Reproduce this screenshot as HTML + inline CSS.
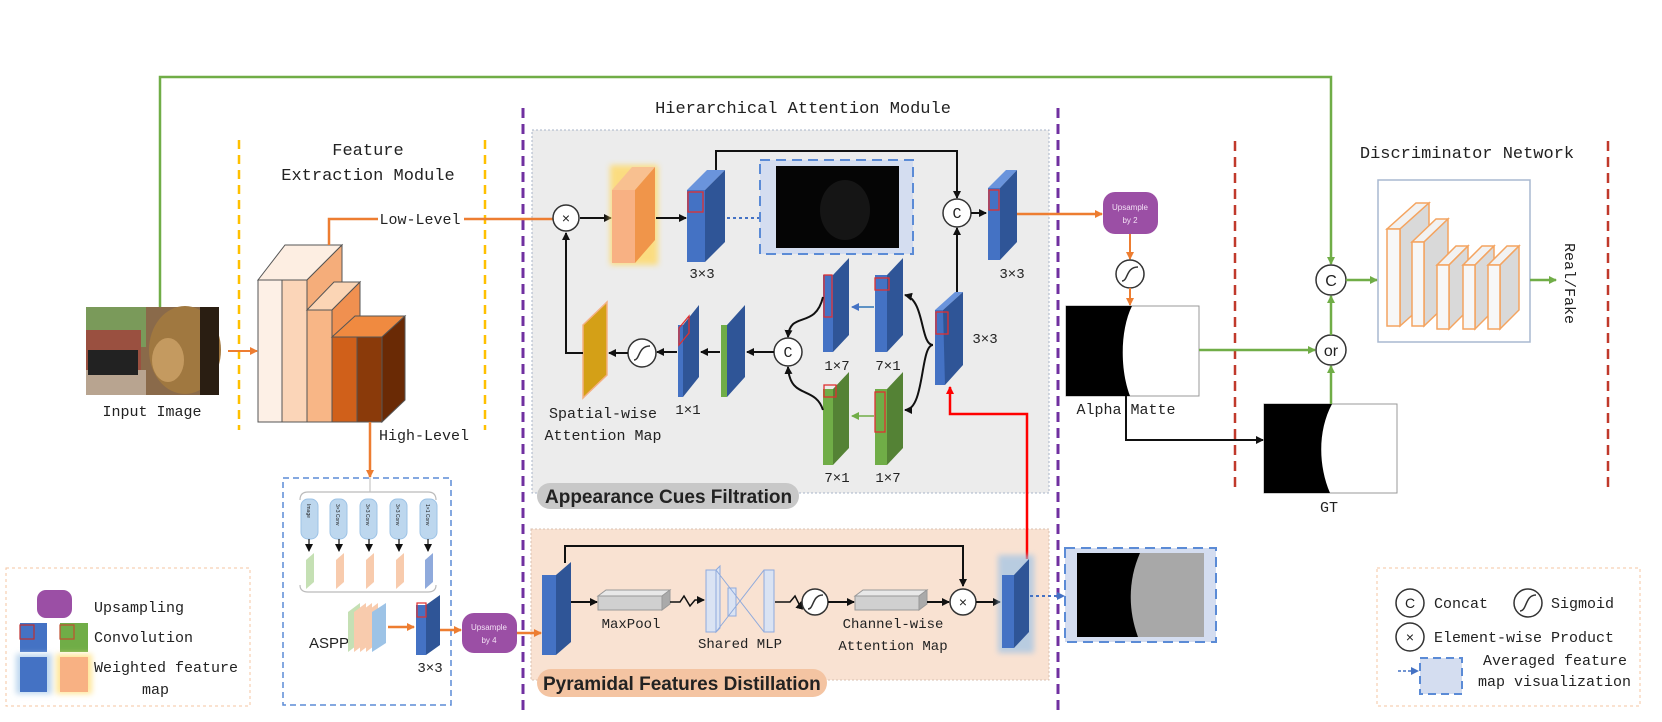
<!DOCTYPE html>
<html><head><meta charset="utf-8"><style>
html,body{margin:0;padding:0;background:#fff;}
svg{display:block;}
text{font-family:"Liberation Mono","DejaVu Sans Mono",monospace;fill:#222;}
.s{font-family:"Liberation Sans",sans-serif;}
</style></head><body>
<svg width="1662" height="722" viewBox="0 0 1662 722" xmlns="http://www.w3.org/2000/svg">
<defs>
<marker id="ab" markerWidth="8" markerHeight="8" refX="7" refY="4" orient="auto" markerUnits="userSpaceOnUse"><path d="M0,0 L8,4 L0,8 z" fill="#111"/></marker>
<marker id="ao" markerWidth="8" markerHeight="8" refX="7" refY="4" orient="auto" markerUnits="userSpaceOnUse"><path d="M0,0 L8,4 L0,8 z" fill="#ed7d31"/></marker>
<marker id="ag" markerWidth="8" markerHeight="8" refX="7" refY="4" orient="auto" markerUnits="userSpaceOnUse"><path d="M0,0 L8,4 L0,8 z" fill="#70ad47"/></marker>
<marker id="ar" markerWidth="8" markerHeight="8" refX="7" refY="4" orient="auto" markerUnits="userSpaceOnUse"><path d="M0,0 L8,4 L0,8 z" fill="#f00"/></marker>
<marker id="abl" markerWidth="8" markerHeight="8" refX="7" refY="4" orient="auto" markerUnits="userSpaceOnUse"><path d="M0,0 L8,4 L0,8 z" fill="#4472c4"/></marker>
<filter id="glowY" x="-50%" y="-50%" width="200%" height="200%"><feGaussianBlur stdDeviation="3"/></filter>
</defs>

<!-- region boxes -->
<rect x="532" y="130" width="517" height="363" fill="#ececec" stroke="#a9b4c8" stroke-dasharray="2,2"/>
<rect x="531" y="529" width="518" height="151" fill="#f9e2d2" stroke="#d9c0b0" stroke-dasharray="2,2"/>
<rect x="537" y="483" width="262" height="26" rx="13" fill="#c8c8c8"/>
<text x="545" y="503" class="s" font-size="19" font-weight="bold" fill="#111">Appearance Cues Filtration</text>
<rect x="537" y="669" width="290" height="28" rx="14" fill="#f4c4a2"/>
<text x="543" y="690" class="s" font-size="19" font-weight="bold" fill="#111">Pyramidal Features Distillation</text>

<!-- dashed separators -->
<line x1="239" y1="140" x2="239" y2="430" stroke="#ffc000" stroke-width="2.5" stroke-dasharray="9,6"/>
<line x1="485" y1="140" x2="485" y2="430" stroke="#ffc000" stroke-width="2.5" stroke-dasharray="9,6"/>
<line x1="523" y1="108" x2="523" y2="715" stroke="#7030a0" stroke-width="3" stroke-dasharray="10,6"/>
<line x1="1058" y1="108" x2="1058" y2="715" stroke="#7030a0" stroke-width="3" stroke-dasharray="10,6"/>
<line x1="1235" y1="141" x2="1235" y2="490" stroke="#c0392b" stroke-width="2.5" stroke-dasharray="10,6"/>
<line x1="1608" y1="141" x2="1608" y2="490" stroke="#c0392b" stroke-width="2.5" stroke-dasharray="10,6"/>

<!-- titles -->
<text x="368" y="155" font-size="17" text-anchor="middle">Feature</text>
<text x="368" y="180" font-size="17" text-anchor="middle">Extraction Module</text>
<text x="803" y="113" font-size="17" text-anchor="middle">Hierarchical Attention Module</text>
<text x="1467" y="158" font-size="17" text-anchor="middle">Discriminator Network</text>

<!-- green top line -->
<polyline points="160,307 160,77 1331,77 1331,264" fill="none" stroke="#70ad47" stroke-width="2.5" marker-end="url(#ag)"/>

<!-- input image -->
<rect x="86" y="307" width="133" height="88" fill="#8a6a4a"/>
<rect x="86" y="307" width="60" height="40" fill="#7a9a5a"/>
<rect x="86" y="330" width="55" height="40" fill="#9a5040"/>
<rect x="86" y="370" width="60" height="25" fill="#b8a490"/>
<rect x="88" y="350" width="50" height="25" fill="#222"/>
<ellipse cx="185" cy="350" rx="36" ry="44" fill="#a07840"/>
<ellipse cx="168" cy="360" rx="16" ry="22" fill="#c49a60"/>
<rect x="200" y="307" width="19" height="88" fill="#2a1e12"/>
<text x="152" y="416" font-size="15" text-anchor="middle">Input Image</text>
<line x1="228" y1="351" x2="257" y2="351" stroke="#ed7d31" stroke-width="2" marker-end="url(#ao)"/>

<!-- feature extractor blocks -->
<g stroke="#555" stroke-width="1">
<polygon points="258,280 285,245 342,245 307,280" fill="#fdeee2"/>
<rect x="258" y="280" width="24" height="142" fill="#fdf0e6"/>
<rect x="282" y="280" width="25" height="142" fill="#fbd5b8"/>
<polygon points="307,280 342,245 342,282 307,310" fill="#f5ad7a"/>
<polygon points="307,310 334,282 360,282 332,310" fill="#fbd5b5"/>
<rect x="307" y="310" width="25" height="112" fill="#f8b686"/>
<polygon points="332,310 360,282 360,316 332,337" fill="#f09050"/>
<polygon points="332,337 355,316 405,316 382,337" fill="#f08a40"/>
<rect x="332" y="337" width="25" height="85" fill="#d0601a"/>
<rect x="357" y="337" width="25" height="85" fill="#8a3a0a"/>
<polygon points="382,337 405,316 405,400 382,422" fill="#6a2a05"/>
</g>
<polyline points="329,245 329,219 565,219" fill="none" stroke="#ed7d31" stroke-width="2.5" marker-end="url(#ao)"/>
<rect x="378" y="209" width="86" height="18" fill="#fff"/>
<text x="420" y="224" font-size="15" text-anchor="middle">Low-Level</text>
<line x1="370" y1="422" x2="370" y2="477" stroke="#ed7d31" stroke-width="2.5" marker-end="url(#ao)"/>
<text x="424" y="440" font-size="15" text-anchor="middle">High-Level</text>

<!-- ACF row 1 -->
<circle cx="566" cy="218" r="13" fill="#fff" stroke="#333" stroke-width="1.5"/>
<text x="566" y="223" font-size="14" text-anchor="middle">×</text>
<line x1="580" y1="218" x2="611" y2="218" stroke="#111" stroke-width="2" marker-end="url(#ab)"/>
<!-- weighted orange -->
<g>
<rect x="610" y="165" width="48" height="100" fill="#ffd966" filter="url(#glowY)" opacity="0.8"/>
<polygon points="612,190 632,167 655,167 635,190" fill="#f8c090"/>
<rect x="612" y="190" width="23" height="73" fill="#f8b183"/>
<polygon points="635,190 655,167 655,240 635,263" fill="#f0954a"/>
</g>
<line x1="656" y1="218" x2="686" y2="218" stroke="#111" stroke-width="2" marker-end="url(#ab)"/>
<!-- blue 3x3 -->
<polygon points="687,190 707,170 725,170 705,190" fill="#6a94dc"/>
<rect x="687" y="190" width="18" height="72" fill="#4472c4"/>
<polygon points="705,190 725,170 725,242 705,262" fill="#2f5597"/>
<rect x="688" y="192" width="15" height="20" fill="none" stroke="#e03030" stroke-width="1.3"/>
<text x="702" y="278" font-size="14" text-anchor="middle">3×3</text>
<line x1="727" y1="218" x2="774" y2="218" stroke="#4472c4" stroke-width="2" stroke-dasharray="3,3" marker-end="url(#abl)"/>
<rect x="760" y="160" width="153" height="94" fill="#d4ddf0" stroke="#5b8bd6" stroke-width="2" stroke-dasharray="10,6"/>
<rect x="776" y="166" width="123" height="82" fill="#050505"/>
<ellipse cx="845" cy="210" rx="25" ry="30" fill="#151515"/>
<polyline points="716,170 716,151 957,151 957,198" fill="none" stroke="#111" stroke-width="2" marker-end="url(#ab)"/>
<circle cx="957" cy="213" r="14" fill="#fff" stroke="#333" stroke-width="1.5"/>
<text x="957" y="218" font-size="15" text-anchor="middle">C</text>
<line x1="971" y1="213" x2="986" y2="213" stroke="#111" stroke-width="2" marker-end="url(#ab)"/>
<!-- right 3x3 -->
<polygon points="988,188 1006,170 1017,170 1000,188" fill="#6a94dc"/>
<rect x="988" y="188" width="12" height="72" fill="#4472c4"/>
<polygon points="1000,188 1017,170 1017,242 1000,260" fill="#2f5597"/>
<rect x="989" y="190" width="10" height="20" fill="none" stroke="#e03030" stroke-width="1.3"/>
<text x="1012" y="278" font-size="14" text-anchor="middle">3×3</text>
<line x1="1017" y1="214" x2="1102" y2="214" stroke="#ed7d31" stroke-width="2.5" marker-end="url(#ao)"/>

<!-- ACF lower -->
<!-- mid 3x3 -->
<polygon points="935,310 955,292 963,292 943,310" fill="#6a94dc"/>
<rect x="935" y="310" width="10" height="75" fill="#4472c4"/>
<polygon points="943,310 963,292 963,365 945,385" fill="#2f5597"/>
<rect x="936" y="312" width="12" height="22" fill="none" stroke="#e03030" stroke-width="1.3"/>
<text x="985" y="343" font-size="14" text-anchor="middle">3×3</text>
<line x1="957" y1="292" x2="957" y2="228" stroke="#111" stroke-width="2" marker-end="url(#ab)"/>
<!-- 1x7 blue / 7x1 blue -->
<rect x="823" y="275" width="10" height="77" fill="#4472c4"/>
<polygon points="833,275 849,258 849,335 833,352" fill="#2f5597"/>
<rect x="824" y="275" width="8" height="42" fill="none" stroke="#e03030" stroke-width="1.3"/>
<rect x="875" y="275" width="12" height="77" fill="#4472c4"/>
<polygon points="887,275 903,258 903,335 887,352" fill="#2f5597"/>
<rect x="875" y="278" width="14" height="12" fill="none" stroke="#e03030" stroke-width="1.3"/>
<line x1="874" y1="307" x2="852" y2="307" stroke="#2e75b6" stroke-width="1.5" marker-end="url(#abl)"/>
<text x="837" y="370" font-size="14" text-anchor="middle">1×7</text>
<text x="888" y="370" font-size="14" text-anchor="middle">7×1</text>
<!-- green -->
<rect x="823" y="389" width="10" height="76" fill="#70ad47"/>
<polygon points="833,389 849,372 849,448 833,465" fill="#548235"/>
<rect x="824" y="385" width="12" height="12" fill="none" stroke="#e03030" stroke-width="1.3"/>
<rect x="875" y="389" width="12" height="76" fill="#70ad47"/>
<polygon points="887,389 903,372 903,448 887,465" fill="#548235"/>
<rect x="875" y="392" width="10" height="40" fill="none" stroke="#e03030" stroke-width="1.3"/>
<line x1="874" y1="416" x2="852" y2="416" stroke="#70ad47" stroke-width="1.5" marker-end="url(#ag)"/>
<text x="837" y="482" font-size="14" text-anchor="middle">7×1</text>
<text x="888" y="482" font-size="14" text-anchor="middle">1×7</text>
<!-- braces -->
<path d="M933,345 C920,345 925,300 905,295" fill="none" stroke="#111" stroke-width="2" marker-end="url(#ab)"/>
<path d="M933,345 C920,345 925,410 905,410" fill="none" stroke="#111" stroke-width="2" marker-end="url(#ab)"/>
<path d="M823,297 C815,330 790,310 788,337" fill="none" stroke="#111" stroke-width="2" marker-end="url(#ab)"/>
<path d="M823,410 C815,385 790,400 788,367" fill="none" stroke="#111" stroke-width="2" marker-end="url(#ab)"/>
<circle cx="788" cy="352" r="14" fill="#fff" stroke="#333" stroke-width="1.5"/>
<text x="788" y="357" font-size="15" text-anchor="middle">C</text>
<line x1="774" y1="352" x2="747" y2="352" stroke="#111" stroke-width="2" marker-end="url(#ab)"/>
<!-- blue w green edge -->
<rect x="721" y="325" width="6" height="72" fill="#70ad47"/>
<polygon points="727,325 745,305 745,377 727,397" fill="#2f5597"/>
<line x1="720" y1="352" x2="701" y2="352" stroke="#111" stroke-width="2" marker-end="url(#ab)"/>
<!-- 1x1 -->
<rect x="678" y="325" width="5" height="72" fill="#4472c4"/>
<polygon points="683,325 699,305 699,377 683,397" fill="#2f5597"/>
<polygon points="679,328 689,316 689,333 679,345" fill="none" stroke="#e03030" stroke-width="1.3"/>
<text x="688" y="414" font-size="14" text-anchor="middle">1×1</text>
<line x1="677" y1="352" x2="657" y2="352" stroke="#111" stroke-width="2" marker-end="url(#ab)"/>
<circle cx="642" cy="353" r="14" fill="#fff" stroke="#333" stroke-width="1.5"/>
<path d="M634,360 C640,360 638,346 650,346" fill="none" stroke="#333" stroke-width="1.5"/>
<line x1="628" y1="353" x2="609" y2="353" stroke="#111" stroke-width="2" marker-end="url(#ab)"/>
<!-- spatial map -->
<polygon points="583,325 607,302 607,375 583,398" fill="#d4a017" stroke="#f4b183" stroke-width="1.5"/>
<polyline points="583,353 566,353 566,233" fill="none" stroke="#111" stroke-width="2" marker-end="url(#ab)"/>
<text x="603" y="418" font-size="15" text-anchor="middle">Spatial-wise</text>
<text x="603" y="440" font-size="15" text-anchor="middle">Attention Map</text>

<!-- red line -->
<polyline points="1027,559 1027,414 950,414 950,387" fill="none" stroke="#f00" stroke-width="2.5" marker-end="url(#ar)"/>

<!-- upsample by 2 / sigmoid / alpha -->
<rect x="1103" y="192" width="55" height="42" rx="12" fill="#9b4fa5"/>
<text x="1130" y="210" class="s" font-size="8" fill="#f3e0f5" text-anchor="middle" style="fill:#f3e0f5">Upsample</text>
<text x="1130" y="223" class="s" font-size="8" text-anchor="middle" style="fill:#f3e0f5">by 2</text>
<line x1="1130" y1="234" x2="1130" y2="259" stroke="#ed7d31" stroke-width="2" marker-end="url(#ao)"/>
<circle cx="1130" cy="274" r="14" fill="#fff" stroke="#333" stroke-width="1.5"/>
<path d="M1122,281 C1128,281 1126,267 1138,267" fill="none" stroke="#333" stroke-width="1.5"/>
<line x1="1130" y1="288" x2="1130" y2="305" stroke="#ed7d31" stroke-width="2" marker-end="url(#ao)"/>
<rect x="1066" y="306" width="133" height="90" fill="#fff" stroke="#999"/>
<path d="M1066,306 L1132,306 C1120,330 1120,370 1130,396 L1066,396 Z" fill="#000"/>
<text x="1126" y="414" font-size="15" text-anchor="middle">Alpha Matte</text>
<polyline points="1126,396 1126,440 1263,440" fill="none" stroke="#111" stroke-width="2" marker-end="url(#ab)"/>
<line x1="1199" y1="350" x2="1315" y2="350" stroke="#70ad47" stroke-width="2.5" marker-end="url(#ag)"/>
<rect x="1264" y="404" width="133" height="89" fill="#fff" stroke="#999"/>
<path d="M1264,404 L1332,404 C1318,430 1318,465 1330,493 L1264,493 Z" fill="#000"/>
<text x="1329" y="512" font-size="15" text-anchor="middle">GT</text>
<line x1="1331" y1="404" x2="1331" y2="366" stroke="#70ad47" stroke-width="2.5" marker-end="url(#ag)"/>
<circle cx="1331" cy="350" r="15" fill="#fff" stroke="#333" stroke-width="1.5"/>
<text x="1331" y="356" class="s" font-size="16" text-anchor="middle">or</text>
<line x1="1331" y1="335" x2="1331" y2="296" stroke="#70ad47" stroke-width="2.5" marker-end="url(#ag)"/>
<circle cx="1331" cy="280" r="15" fill="#fff" stroke="#333" stroke-width="1.5"/>
<text x="1331" y="286" class="s" font-size="16" text-anchor="middle">C</text>
<line x1="1346" y1="280" x2="1377" y2="280" stroke="#70ad47" stroke-width="2.5" marker-end="url(#ag)"/>

<!-- discriminator -->
<rect x="1378" y="180" width="152" height="162" fill="#fff" stroke="#a9b8d0" stroke-width="1.5"/>
<g stroke="#f4a460" stroke-width="1.5">
<polygon points="1387,229 1400,229 1429,203 1416,203" fill="#f2f2f2"/>
<polygon points="1400,229 1429,203 1429,300 1400,326" fill="#d9d9d9"/>
<rect x="1387" y="229" width="13" height="97" fill="#f7f7f7"/>
<polygon points="1412,242 1424,242 1448,219 1436,219" fill="#f2f2f2"/>
<polygon points="1424,242 1448,219 1448,303 1424,326" fill="#d9d9d9"/>
<rect x="1412" y="242" width="12" height="84" fill="#f7f7f7"/>
<polygon points="1437,265 1449,265 1468,246 1456,246" fill="#f2f2f2"/>
<polygon points="1449,265 1468,246 1468,310 1449,329" fill="#d9d9d9"/>
<rect x="1437" y="265" width="12" height="64" fill="#f7f7f7"/>
<polygon points="1463,265 1475,265 1494,246 1482,246" fill="#f2f2f2"/>
<polygon points="1475,265 1494,246 1494,310 1475,329" fill="#d9d9d9"/>
<rect x="1463" y="265" width="12" height="64" fill="#f7f7f7"/>
<polygon points="1488,265 1500,265 1519,246 1507,246" fill="#f2f2f2"/>
<polygon points="1500,265 1519,246 1519,310 1500,329" fill="#d9d9d9"/>
<rect x="1488" y="265" width="12" height="64" fill="#f7f7f7"/>
</g>
<line x1="1530" y1="280" x2="1556" y2="280" stroke="#70ad47" stroke-width="2.5" marker-end="url(#ag)"/>
<text x="0" y="0" font-size="15" transform="translate(1565,243) rotate(90)">Real/Fake</text>

<!-- ASPP -->
<rect x="283" y="478" width="168" height="227" fill="none" stroke="#5b8bd6" stroke-width="1.5" stroke-dasharray="6,4"/>
<path d="M300,500 Q300,492 308,492 L428,492 Q436,492 436,500 M300,585 Q300,592 308,592 L428,592 Q436,592 436,585" fill="none" stroke="#bbb" stroke-width="1.2"/>
<line x1="370" y1="478" x2="370" y2="492" stroke="#bbb"/>
<g fill="#bdd7ee" stroke="#9dc3e6">
<rect x="301" y="499" width="17" height="40" rx="7"/>
<rect x="330" y="499" width="17" height="40" rx="7"/>
<rect x="360" y="499" width="17" height="40" rx="7"/>
<rect x="390" y="499" width="17" height="40" rx="7"/>
<rect x="420" y="499" width="17" height="40" rx="7"/>
</g>
<g font-size="5" class="s">
<text transform="translate(307,504) rotate(90)" class="s">Image</text>
<text transform="translate(336,504) rotate(90)" class="s">3×3 Conv</text>
<text transform="translate(366,504) rotate(90)" class="s">3×3 Conv</text>
<text transform="translate(396,504) rotate(90)" class="s">3×3 Conv</text>
<text transform="translate(426,504) rotate(90)" class="s">1×1 Conv</text>
</g>
<g stroke="#111" stroke-width="1.2">
<line x1="309" y1="539" x2="309" y2="551" marker-end="url(#ab)"/>
<line x1="339" y1="539" x2="339" y2="551" marker-end="url(#ab)"/>
<line x1="369" y1="539" x2="369" y2="551" marker-end="url(#ab)"/>
<line x1="399" y1="539" x2="399" y2="551" marker-end="url(#ab)"/>
<line x1="428" y1="539" x2="428" y2="551" marker-end="url(#ab)"/>
</g>
<polygon points="306,560 314,553 314,582 306,589" fill="#c5e0b4"/>
<polygon points="336,560 344,553 344,582 336,589" fill="#f8cbad"/>
<polygon points="366,560 374,553 374,582 366,589" fill="#f8cbad"/>
<polygon points="396,560 404,553 404,582 396,589" fill="#f8cbad"/>
<polygon points="425,560 433,553 433,582 425,589" fill="#8faadc"/>
<text x="309" y="648" class="s" font-size="15">ASPP</text>
<g>
<polygon points="348,612 360,603 360,643 348,652" fill="#c5e0b4"/>
<polygon points="354,612 366,603 366,643 354,652" fill="#f8cbad"/>
<polygon points="360,612 372,603 372,643 360,652" fill="#f8cbad"/>
<polygon points="366,612 378,603 378,643 366,652" fill="#f8cbad"/>
<polygon points="372,612 386,603 386,643 372,652" fill="#9dc3e6"/>
</g>
<line x1="388" y1="627" x2="414" y2="627" stroke="#ed7d31" stroke-width="2.5" marker-end="url(#ao)"/>
<rect x="416" y="605" width="10" height="50" fill="#4472c4"/>
<polygon points="426,605 440,595 440,645 426,655" fill="#2f5597"/>
<rect x="417" y="603" width="9" height="14" fill="none" stroke="#e03030" stroke-width="1.2"/>
<text x="430" y="672" font-size="14" text-anchor="middle">3×3</text>
<line x1="440" y1="630" x2="461" y2="630" stroke="#ed7d31" stroke-width="2.5" marker-end="url(#ao)"/>
<rect x="462" y="613" width="55" height="40" rx="12" fill="#9b4fa5"/>
<text x="489" y="630" class="s" font-size="8" text-anchor="middle" style="fill:#f3e0f5">Upsample</text>
<text x="489" y="643" class="s" font-size="8" text-anchor="middle" style="fill:#f3e0f5">by 4</text>
<line x1="517" y1="633" x2="541" y2="633" stroke="#ed7d31" stroke-width="2.5" marker-end="url(#ao)"/>

<!-- PFD -->
<rect x="542" y="575" width="14" height="80" fill="#4472c4"/>
<polygon points="556,575 571,562 571,642 556,655" fill="#2f5597"/>
<polyline points="565,563 565,546 963,546 963,586" fill="none" stroke="#111" stroke-width="2" marker-end="url(#ab)"/>
<line x1="571" y1="602" x2="597" y2="602" stroke="#111" stroke-width="2" marker-end="url(#ab)"/>
<polygon points="598,596 662,596 670,590 606,590" fill="#e8e8e8" stroke="#999"/>
<rect x="598" y="596" width="64" height="14" fill="#d0d0d0" stroke="#999"/>
<polygon points="662,596 670,590 670,604 662,610" fill="#aaa" stroke="#999"/>
<text x="631" y="628" font-size="14" text-anchor="middle">MaxPool</text>
<path d="M670,602 L680,602 L684,596 L690,606 L695,600 L704,600" fill="none" stroke="#111" stroke-width="1.5" marker-end="url(#ab)"/>
<g fill="#dae3f3" stroke="#8faadc">
<rect x="706" y="570" width="10" height="62"/>
<rect x="764" y="570" width="10" height="62"/>
<rect x="728" y="588" width="8" height="28"/>
<polygon points="716,570 720,566 720,628 716,632"/>
</g>
<path d="M716,570 L764,632 M716,632 L764,570" stroke="#8faadc" fill="none"/>
<text x="740" y="648" font-size="14" text-anchor="middle">Shared MLP</text>
<path d="M775,602 L790,602 L795,596 L800,606 L801,602" fill="none" stroke="#111" stroke-width="1.5" marker-end="url(#ab)"/>
<circle cx="815" cy="602" r="13" fill="#fff" stroke="#333" stroke-width="1.5"/>
<path d="M808,609 C814,609 812,595 823,595" fill="none" stroke="#333" stroke-width="1.5"/>
<line x1="828" y1="602" x2="854" y2="602" stroke="#111" stroke-width="2" marker-end="url(#ab)"/>
<polygon points="855,596 919,596 927,590 863,590" fill="#e8e8e8" stroke="#999"/>
<rect x="855" y="596" width="64" height="14" fill="#d0d0d0" stroke="#999"/>
<polygon points="919,596 927,590 927,604 919,610" fill="#aaa" stroke="#999"/>
<text x="893" y="628" font-size="14" text-anchor="middle">Channel-wise</text>
<text x="893" y="650" font-size="14" text-anchor="middle">Attention Map</text>
<line x1="927" y1="602" x2="949" y2="602" stroke="#111" stroke-width="2" marker-end="url(#ab)"/>
<circle cx="963" cy="602" r="13" fill="#fff" stroke="#333" stroke-width="1.5"/>
<text x="963" y="607" font-size="14" text-anchor="middle">×</text>
<line x1="976" y1="602" x2="1000" y2="602" stroke="#111" stroke-width="2" marker-end="url(#ab)"/>
<rect x="998" y="555" width="36" height="98" fill="#9dc3e6" filter="url(#glowY)" opacity="0.7"/>
<rect x="1002" y="575" width="12" height="73" fill="#4472c4"/>
<polygon points="1014,575 1029,559 1029,632 1014,648" fill="#2f5597"/>
<line x1="1030" y1="596" x2="1064" y2="596" stroke="#4472c4" stroke-width="2" stroke-dasharray="3,3" marker-end="url(#abl)"/>
<rect x="1065" y="548" width="151" height="94" fill="#d4ddf0" stroke="#5b8bd6" stroke-width="2" stroke-dasharray="10,6"/>
<rect x="1077" y="553" width="127" height="84" fill="#000"/>
<path d="M1140,553 L1204,553 L1204,637 L1138,637 C1128,610 1128,580 1140,553 Z" fill="#a8a8a8"/>

<!-- legends -->
<rect x="6" y="568" width="244" height="138" fill="none" stroke="#f4c4a2" stroke-dasharray="3,3"/>
<rect x="37" y="590" width="35" height="28" rx="9" fill="#9b4fa5"/>
<text x="94" y="612" font-size="15">Upsampling</text>
<rect x="20" y="623" width="27" height="29" fill="#4472c4"/>
<rect x="20" y="625" width="14" height="14" fill="none" stroke="#c03030" stroke-width="1.2"/>
<rect x="60" y="623" width="28" height="29" fill="#70ad47"/>
<rect x="60" y="625" width="14" height="14" fill="none" stroke="#c05030" stroke-width="1.2"/>
<text x="94" y="642" font-size="15">Convolution</text>
<rect x="16" y="654" width="36" height="40" fill="#bdd7ee" filter="url(#glowY)"/>
<rect x="20" y="657" width="27" height="35" fill="#4472c4"/>
<rect x="56" y="654" width="36" height="40" fill="#ffe699" filter="url(#glowY)"/>
<rect x="60" y="657" width="28" height="35" fill="#f8b183"/>
<text x="94" y="672" font-size="15">Weighted feature</text>
<text x="142" y="694" font-size="15">map</text>

<rect x="1377" y="568" width="263" height="138" fill="none" stroke="#f4c4a2" stroke-dasharray="3,3"/>
<circle cx="1410" cy="603" r="14" fill="#fff" stroke="#333" stroke-width="1.5"/>
<text x="1410" y="608" class="s" font-size="14" text-anchor="middle">C</text>
<text x="1434" y="608" font-size="15">Concat</text>
<circle cx="1528" cy="603" r="14" fill="#fff" stroke="#333" stroke-width="1.5"/>
<path d="M1520,611 C1527,611 1525,595 1536,595" fill="none" stroke="#333" stroke-width="1.5"/>
<text x="1551" y="608" font-size="15">Sigmoid</text>
<circle cx="1410" cy="637" r="14" fill="#fff" stroke="#333" stroke-width="1.5"/>
<text x="1410" y="642" font-size="14" text-anchor="middle">×</text>
<text x="1434" y="642" font-size="15">Element-wise Product</text>
<line x1="1398" y1="671" x2="1418" y2="671" stroke="#4472c4" stroke-width="1.5" stroke-dasharray="3,2" marker-end="url(#abl)"/>
<rect x="1420" y="658" width="42" height="36" fill="#d4ddf0" stroke="#5b8bd6" stroke-width="2" stroke-dasharray="8,5"/>
<text x="1483" y="665" font-size="15">Averaged feature</text>
<text x="1478" y="686" font-size="15">map visualization</text>
</svg>
</body></html>
